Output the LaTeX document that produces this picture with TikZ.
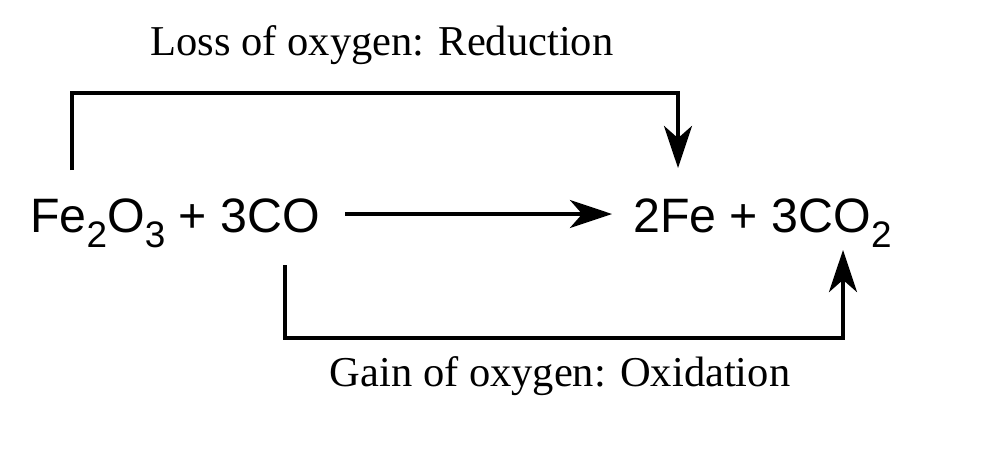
\documentclass[tikz,border=0pt]{standalone}
\usepackage{fontspec}
\setmainfont{Liberation Serif}
\setsansfont{Liberation Sans}
\usetikzlibrary{arrows.meta}
\newcommand{\mysub}[1]{\raisebox{-0.6ex}{\fontsize{21}{21}\selectfont #1}}
\begin{document}
\begin{tikzpicture}[x=0.02cm,y=-0.02cm,
  conn/.style={line width=1.8pt,-{Stealth[length=24pt,width=16pt,inset=7pt]}},
  chem/.style={font=\sffamily\fontsize{27.5}{30}\selectfont,inner sep=0pt,anchor=base west},
  lab/.style={font=\fontsize{24.2}{28}\selectfont,inner sep=0pt}]
\useasboundingbox (0,0) rectangle (1000,474);
\node[lab] (loss) at (382,45) {Loss of oxygen: Reduction};
\node[lab] (gain) at (560,376) {Gain of oxygen: Oxidation};
\node[chem] (left) at (30,232) {Fe\mysub{2}O\mysub{3} + 3CO};
\node[chem] (right) at (633,232) {2Fe + 3CO\mysub{2}};
\coordinate (a1) at (72,170);
\coordinate (a2) at (678,168);
\coordinate (b1) at (285,265);
\coordinate (b2) at (843,250);
\coordinate (m1) at (345,214);
\coordinate (m2) at (612,214);
\draw[conn] (a1) -- (72,93) -- (678,93) -- (a2);
\draw[conn] (b1) -- (285,338) -- (843,338) -- (b2);
\draw[conn] (m1) -- (m2);
\end{tikzpicture}
\end{document}
